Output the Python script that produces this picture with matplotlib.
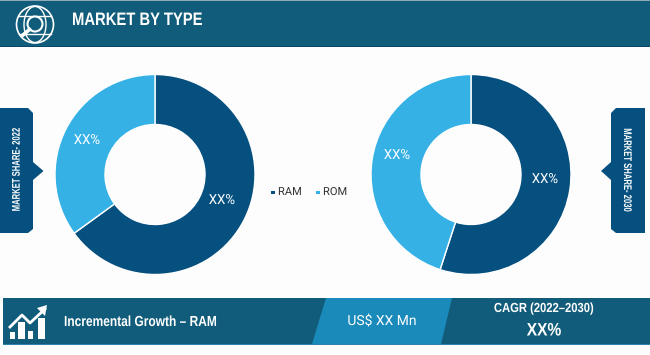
import matplotlib
matplotlib.use('Agg')
import matplotlib.pyplot as plt
from matplotlib.patches import Polygon, Rectangle, Circle, Arc
from matplotlib.patheffects import AbstractPathEffect
from matplotlib.transforms import Affine2D

plt.rcParams['font.family'] = ['Liberation Sans', 'DejaVu Sans']

categories = ['RAM', 'ROM']
share_2022 = [65, 35]
share_2030 = [55, 45]
pie_labels = ['XX%', 'XX%']
colors = ['#06507f', '#35b1e6']
dark = '#115c7a'
mid = '#1a8aba'
side = '#06507f'
H = 355

fig = plt.figure(figsize=(6.5, 3.55), dpi=100, facecolor='#fdfdfd')
ax = fig.add_axes([0, 0, 1, 1])


class Squeeze(AbstractPathEffect):
    # condensed look, no narrow font installed: scale glyphs about the anchor point
    def __init__(self, x, y, sx=1.0, sy=1.0):
        super().__init__()
        self.x, self.y, self.sx, self.sy = x, y, sx, sy

    def draw_path(self, renderer, gc, tpath, affine, rgbFace=None):
        t = Affine2D().translate(-self.x, -self.y).scale(self.sx, self.sy).translate(self.x, self.y)
        renderer.draw_path(gc, tpath, affine + t, rgbFace)


def Y(y):
    # pixel y from top -> axes y
    return H - y


def poly(pts, color, z=2):
    ax.add_patch(Polygon([(x, Y(y)) for x, y in pts], closed=True, fc=color, ec='none', zorder=z))


def label(x, y, s, size, sx=1.0, sy=1.0, **kw):
    kw.setdefault('color', 'white')
    kw.setdefault('ha', 'center')
    t = ax.text(x, Y(y), s, fontsize=size, va='center', zorder=5, **kw)
    t.set_path_effects([Squeeze(x, Y(y), sx, sy)])
    return t


def donut(cx, cy, values, lab_pos):
    ax.pie(values, colors=colors, startangle=90, counterclock=False, radius=100, center=(cx, Y(cy)),
           wedgeprops=dict(width=50, edgecolor='white', linewidth=1), frame=True)
    for lab, (lx, ly) in zip(pie_labels, lab_pos):
        label(lx, ly, lab, 10, sx=0.95, family=['Roboto'])


donut(155, 174.5, share_2022, [(222, 200), (87, 140)])
donut(471, 174.5, share_2030, [(545, 179), (397, 155)])

# header
ax.add_patch(Rectangle((0, Y(46)), 650, 46, fc=dark, ec='none', zorder=2))
ax.add_patch(Rectangle((0, Y(47)), 650, 1.5, fc='#07486a', ec='none', zorder=2))
ax.add_patch(Rectangle((0, Y(1)), 650, 1, fc='#8fa9b6', ec='none', zorder=3))
label(72, 20.5, 'MARKET BY TYPE', 13, sx=0.82, ha='left', fontweight='bold')

# globe icon
gx, gy = 35, 24.5
ax.add_patch(Circle((gx, Y(gy)), 18.5, fc='none', ec='white', lw=1.2, zorder=4))
ax.add_patch(Arc((gx, Y(gy)), 22, 36, theta1=90, theta2=270, ec='white', lw=1, zorder=4))
ax.add_patch(Arc((gx, Y(gy)), 22, 36, theta1=-90, theta2=90, ec='white', lw=1, zorder=4))
for off, half in ((-9, 16), (9, 16)):
    ax.plot([gx - half, gx + half], [Y(gy + off), Y(gy + off)], color='white', lw=1, zorder=4)
ax.add_patch(Circle((gx, Y(gy - 0.5)), 7.5, fc=dark, ec='white', lw=1.5, zorder=4))
ax.plot([gx - 5.5, gx - 12], [Y(gy + 5), Y(gy + 10.5)], color='white', lw=2.6, zorder=4)

# side tabs
poly([(0, 108), (28, 108), (33, 113), (33, 162), (43.5, 171), (33, 180), (33, 229), (28, 233), (0, 233)], side)
poly([(645, 108), (616, 108), (611, 113), (611, 162), (601, 171), (611, 180), (611, 229), (616, 233), (645, 233)], side)
label(16.7, 169.5, 'MARKET SHARE- 2022', 8, sy=0.69, rotation=90, fontweight='bold', rotation_mode='anchor')
label(627, 170, 'MARKET SHARE- 2030', 8, sy=0.69, rotation=270, fontweight='bold', rotation_mode='anchor')

# legend between the donuts
for px, col, lab in zip((271, 316), colors, categories):
    ax.add_patch(Rectangle((px, Y(193.5)), 4, 3, fc=col, ec='none', zorder=4))
    label(px + 7, 192, lab, 8, ha='left', color='#333333', family=['Roboto'])

# bottom band
ax.add_patch(Rectangle((3, Y(344)), 647, 46, fc=dark, ec='none', zorder=2))
ax.add_patch(Rectangle((3, Y(345)), 647, 1.2, fc='#2c86ac', ec='none', zorder=2))
poly([(326, 298), (452, 298), (441, 344), (312, 344)], mid, 3)
label(64, 322, 'Incremental Growth – RAM', 10.5, sx=0.82, ha='left', fontweight='bold')
label(382, 321, 'US$ XX Mn', 10, family=['Roboto'])
label(544, 309, 'CAGR (2022–2030)', 9.5, sx=0.85, fontweight='bold')
label(544, 331, 'XX%', 13, sx=0.86, fontweight='bold')

# growth icon
for bx, bw, top in zip((10, 18, 28, 38), (5, 7, 5, 7), (332, 322, 331, 318)):
    ax.add_patch(Rectangle((bx, Y(339)), bw, 339 - top, fc='white', ec='none', zorder=4))
ax.plot([10, 22, 30, 45], [Y(327), Y(315), Y(323), Y(309)], color='white', lw=2, zorder=4)
poly([(47, 305), (37, 308), (45, 316)], 'white', 4)

ax.set_xlim(0, 650)
ax.set_ylim(0, H)
ax.set_aspect('equal')
ax.axis('off')

fig.savefig('out.png', dpi=100, facecolor=fig.get_facecolor())
